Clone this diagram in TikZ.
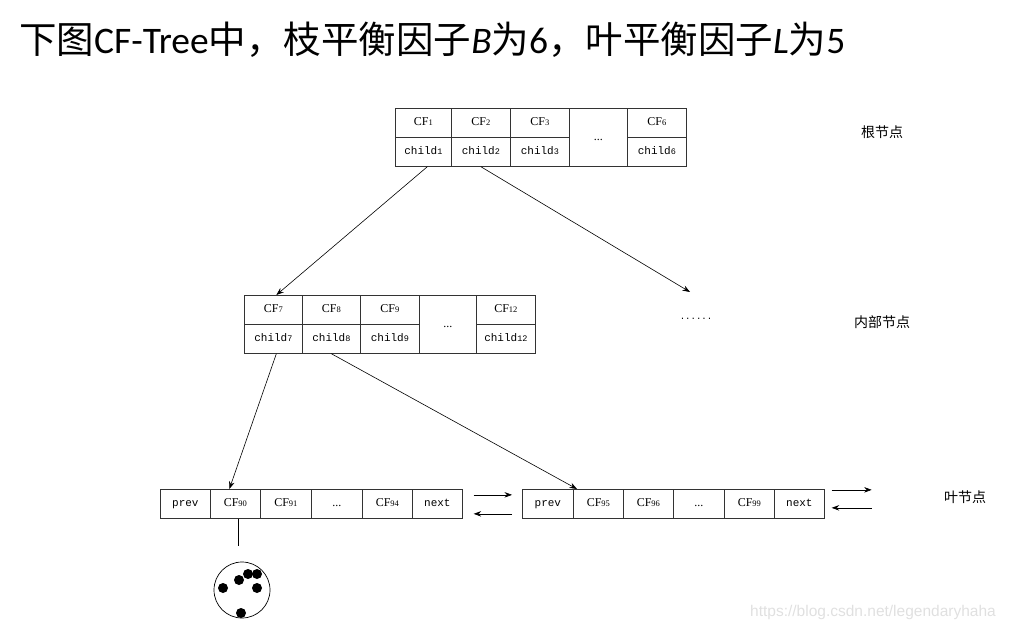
\documentclass[tikz,border=0pt]{standalone}
\usepackage{fontspec}
\setmainfont{Liberation Serif}
\newfontfamily\cjk{Noto Sans CJK SC}
\newfontfamily\titlefont{Carlito}
\newfontfamily\boxmono{Liberation Mono}
\setsansfont{Liberation Sans}
\usetikzlibrary{arrows.meta}

\newcommand{\smd}[1]{{\fontsize{8.5}{8.5}\selectfont #1}}

\tikzset{
  cell/.style={draw=black!80, line width=0.7pt, inner sep=0pt, anchor=north west,
    text height=8pt, text depth=2pt, font=\fontsize{12}{12}\selectfont},
  monocell/.style={cell, font=\boxmono\fontsize{11}{11}\selectfont},
  ptr/.style={-{Stealth[length=7.5pt,width=5.5pt]}, line width=0.6pt},
  label/.style={font=\cjk\fontsize{14}{14}\selectfont},
}

\begin{document}
\begin{tikzpicture}[x=1pt, y=-1pt]
  \useasboundingbox (0,0) rectangle (1011,628);

  % title
  \node[anchor=base west, inner sep=0pt, font=\fontsize{37.5}{38}\selectfont] (title) at (19,54)
    {{\cjk 下图}{\titlefont CF-Tree}{\cjk 中，枝平衡因子}{\titlefont\itshape B}{\cjk 为}{\titlefont 6}{\cjk ，叶平衡因子}{\titlefont\itshape L}{\cjk 为}{\titlefont 5}};

  % root node
  \node[cell, minimum width=56, minimum height=29] (cf1) at (395,108) {CF\smd{1}};
  \node[cell, minimum width=59, minimum height=29] (cf2) at (451,108) {CF\smd{2}};
  \node[cell, minimum width=59, minimum height=29] (cf3) at (510,108) {CF\smd{3}};
  \node[cell, minimum width=58, minimum height=58] (rdots) at (569,108) {...};
  \node[cell, minimum width=59, minimum height=29] (cf6) at (627,108) {CF\smd{6}};
  \node[monocell, minimum width=56, minimum height=29] (ch1) at (395,137) {child\smd{1}};
  \node[monocell, minimum width=59, minimum height=29] (ch2) at (451,137) {child\smd{2}};
  \node[monocell, minimum width=59, minimum height=29] (ch3) at (510,137) {child\smd{3}};
  \node[monocell, minimum width=59, minimum height=29] (ch6) at (627,137) {child\smd{6}};

  % internal node
  \node[cell, minimum width=58, minimum height=29] (cf7) at (244,295) {CF\smd{7}};
  \node[cell, minimum width=58, minimum height=29] (cf8) at (302,295) {CF\smd{8}};
  \node[cell, minimum width=59, minimum height=29] (cf9) at (360,295) {CF\smd{9}};
  \node[cell, minimum width=57, minimum height=58] (idots) at (419,295) {...};
  \node[cell, minimum width=59, minimum height=29] (cf12) at (476,295) {CF\smd{12}};
  \node[monocell, minimum width=58, minimum height=29] (ch7) at (244,324) {child\smd{7}};
  \node[monocell, minimum width=58, minimum height=29] (ch8) at (302,324) {child\smd{8}};
  \node[monocell, minimum width=59, minimum height=29] (ch9) at (360,324) {child\smd{9}};
  \node[monocell, minimum width=59, minimum height=29] (ch12) at (476,324) {child\smd{12}};

  \node[font=\boxmono\fontsize{9}{9}\selectfont, inner sep=0pt] (more) at (696,319) {......};
  \coordinate (moretip) at (690,292);

  % leaf nodes
  \node[monocell, minimum width=50, minimum height=29] (pa) at (160,489) {prev};
  \node[cell, minimum width=50, minimum height=29] (cf90) at (210,489) {CF\smd{90}};
  \node[cell, minimum width=51, minimum height=29] (cf91) at (260,489) {CF\smd{91}};
  \node[cell, minimum width=51, minimum height=29] (adots) at (311,489) {...};
  \node[cell, minimum width=50, minimum height=29] (cf94) at (362,489) {CF\smd{94}};
  \node[monocell, minimum width=50, minimum height=29] (na) at (412,489) {next};

  \node[monocell, minimum width=51, minimum height=29] (pb) at (522,489) {prev};
  \node[cell, minimum width=50, minimum height=29] (cf95) at (573,489) {CF\smd{95}};
  \node[cell, minimum width=50, minimum height=29] (cf96) at (623,489) {CF\smd{96}};
  \node[cell, minimum width=51, minimum height=29] (bdots) at (673,489) {...};
  \node[cell, minimum width=50, minimum height=29] (cf99) at (724,489) {CF\smd{99}};
  \node[monocell, minimum width=50, minimum height=29] (nb) at (774,489) {next};

  % side labels
  \node[label] (lroot) at (882,132) {根节点};
  \node[label] (linner) at (882,322) {内部节点};
  \node[label] (lleaf) at (965,497) {叶节点};

  % links
  \draw[ptr] ([xshift=4pt]ch1.south) -- ([xshift=3pt]cf7.north);
  \draw[ptr] (ch2.south) -- (moretip);
  \draw[ptr] ([xshift=3pt]ch7.south) -- ([xshift=-6pt]cf90.north);
  \draw[ptr] (ch8.south) -- ([xshift=4pt]cf95.north west);

  \draw[ptr] ([xshift=11pt,yshift=9pt]na.east) -- ([xshift=-10pt,yshift=9pt]pb.west);
  \draw[ptr] ([xshift=-10pt,yshift=-10pt]pb.west) -- ([xshift=11pt,yshift=-10pt]na.east);
  \draw[ptr] ([xshift=7pt,yshift=14pt]nb.east) -- ++(40,0);
  \draw[ptr] ([xshift=47pt,yshift=-4pt]nb.east) -- ++(-40,0);

  % cluster
  \draw[line width=0.9pt] ([xshift=3pt]cf90.south) -- ++(0,27);
  \node[draw, circle, minimum size=56, inner sep=0pt, line width=0.7pt] (clu) at (242,590) {};
  \foreach \p in {(223,588),(239,580),(248,574),(257,574),(257,588),(241,613)}
    \fill \p circle (5);

  % watermark
  \node[anchor=base west, inner sep=0pt, font=\sffamily\fontsize{15.5}{16}\selectfont, text=black!12] (mark) at (750,616) {https://blog.csdn.net/legendaryhaha};
\end{tikzpicture}
\end{document}
